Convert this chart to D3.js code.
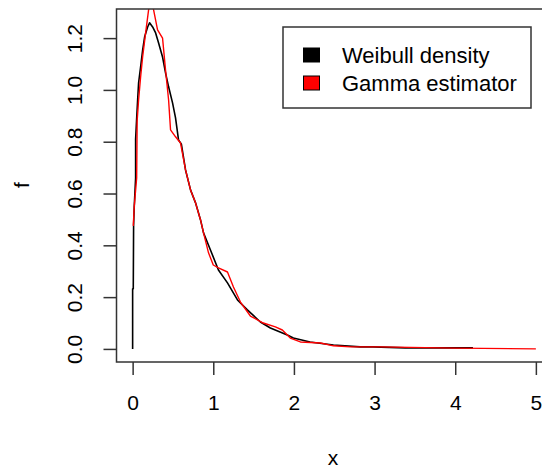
<!DOCTYPE html>
<html>
<head>
<meta charset="utf-8">
<script src="https://cdn.jsdelivr.net/npm/d3@7"></script>
<style>
  body { margin: 0; background: #fff; }
  svg { display: block; }
  text { font-family: "Liberation Sans", Arial, sans-serif; fill: #000; }
</style>
</head>
<body>
<script>
// ---- data ----
const weibullX = [0, 0, 0.008, 0.012, 0.02, 0.037, 0.037, 0.05, 0.062, 0.074, 0.099, 0.124, 0.149, 0.186, 0.21, 0.248, 0.285, 0.322, 0.371, 0.408, 0.446, 0.495, 0.532, 0.569, 0.605, 0.656, 0.718, 0.78, 0.842, 0.879, 0.965, 1.064, 1.176, 1.3, 1.423, 1.584, 1.708, 1.918, 1.993, 2.2, 2.49, 2.82, 2.98, 3.38, 4.22];
const weibullF = [0, 0.232, 0.232, 0.475, 0.55, 0.66, 0.81, 0.89, 0.961, 1.027, 1.089, 1.154, 1.205, 1.243, 1.259, 1.243, 1.22, 1.181, 1.127, 1.066, 1.012, 0.95, 0.892, 0.807, 0.79, 0.691, 0.614, 0.564, 0.498, 0.448, 0.382, 0.305, 0.255, 0.189, 0.151, 0.104, 0.081, 0.054, 0.042, 0.027, 0.015, 0.008, 0.008, 0.004, 0.004];

const gammaX = [0.008, 0.02, 0.05, 0.056, 0.074, 0.099, 0.124, 0.161, 0.198, 0.23, 0.26, 0.309, 0.371, 0.408, 0.446, 0.47, 0.532, 0.594, 0.656, 0.718, 0.78, 0.842, 0.879, 0.941, 1.0, 1.064, 1.176, 1.25, 1.337, 1.46, 1.62, 1.77, 1.856, 1.955, 2.08, 2.33, 2.49, 2.7, 3.07, 4.0, 5.0];
const gammaF = [0.475, 0.55, 0.66, 0.88, 0.961, 1.05, 1.127, 1.22, 1.309, 1.36, 1.309, 1.232, 1.2, 1.077, 0.961, 0.846, 0.819, 0.795, 0.691, 0.614, 0.564, 0.498, 0.448, 0.371, 0.324, 0.313, 0.297, 0.239, 0.181, 0.127, 0.1, 0.085, 0.073, 0.042, 0.027, 0.023, 0.012, 0.008, 0.008, 0.003, 0.0];

const xTicks = [0, 1, 2, 3, 4, 5];
const yTicks = [0, 0.2, 0.4, 0.6, 0.8, 1.0, 1.2];
const legendLabels = ["Weibull density", "Gamma estimator"];
const legendColors = ["#000000", "#ff0000"];

// ---- layout ----
const W = 542, H = 469;
const plot = { left: 116.5, right: 552, top: 9, bottom: 362 };

const svg = d3.select("body").append("svg").attr("width", W).attr("height", H);

const x = d3.scaleLinear().domain([-0.2, 5.2]).range([plot.left, plot.right]);
const y = d3.scaleLinear().domain([-0.0505, 1.3124]).range([plot.bottom, plot.top]);

svg.append("clipPath").attr("id", "clip")
  .append("rect").attr("x", plot.left).attr("y", plot.top)
  .attr("width", plot.right - plot.left).attr("height", plot.bottom - plot.top);

const line = d3.line().x(d => x(d[0])).y(d => y(d[1]));

const g = svg.append("g").attr("clip-path", "url(#clip)");
g.append("path").datum(weibullX.map((v, i) => [v, weibullF[i]]))
  .attr("d", line).attr("fill", "none").attr("stroke", "#000").attr("stroke-width", 1.6)
  .attr("stroke-linejoin", "round");
g.append("path").datum(gammaX.map((v, i) => [v, gammaF[i]]))
  .attr("d", line).attr("fill", "none").attr("stroke", "#ff0000").attr("stroke-width", 1.4)
  .attr("stroke-linejoin", "round");

// box
svg.append("rect").attr("x", plot.left).attr("y", plot.top)
  .attr("width", plot.right - plot.left).attr("height", plot.bottom - plot.top)
  .attr("fill", "none").attr("stroke", "#333").attr("stroke-width", 1.5);

// x axis
const xAxis = svg.append("g").attr("transform", `translate(0,${plot.bottom})`)
  .call(d3.axisBottom(x).tickValues(xTicks).tickFormat(d3.format("d")).tickSize(13).tickPadding(20));
xAxis.select(".domain").remove();
xAxis.selectAll("line").attr("stroke", "#333").attr("stroke-width", 1.5);
xAxis.selectAll("text").attr("font-size", 21).attr("fill", "#000");

// y axis
const yAxis = svg.append("g").attr("transform", `translate(${plot.left},0)`)
  .call(d3.axisLeft(y).tickValues(yTicks).tickFormat(d3.format(".1f")).tickSize(13));
yAxis.select(".domain").remove();
yAxis.selectAll("line").attr("stroke", "#333").attr("stroke-width", 1.5);
yAxis.selectAll("text").attr("font-size", 21).attr("fill", "#000")
  .attr("x", 0).attr("y", 0).attr("dy", "0.36em")
  .attr("text-anchor", "middle")
  .attr("transform", "translate(-42,0) rotate(-90)");

// axis titles
svg.append("text").attr("x", 333).attr("y", 465).attr("text-anchor", "middle")
  .attr("font-size", 21).text("x");
svg.append("text").attr("transform", "translate(29,185) rotate(-90)")
  .attr("text-anchor", "middle").attr("font-size", 21).text("f");

// legend
const lg = svg.append("g");
lg.append("rect").attr("x", 283).attr("y", 27).attr("width", 248).attr("height", 81)
  .attr("fill", "#fff").attr("stroke", "#333").attr("stroke-width", 1.5);
legendLabels.forEach((lab, i) => {
  const cy = 55 + i * 28;
  lg.append("rect").attr("x", 303.5).attr("y", cy - 7).attr("width", 16).attr("height", 14)
    .attr("fill", legendColors[i]).attr("stroke", "#000").attr("stroke-width", 1);
  lg.append("text").attr("x", 342).attr("y", cy).attr("dy", "0.36em")
    .attr("font-size", 22).text(lab);
});
</script>
</body>
</html>
